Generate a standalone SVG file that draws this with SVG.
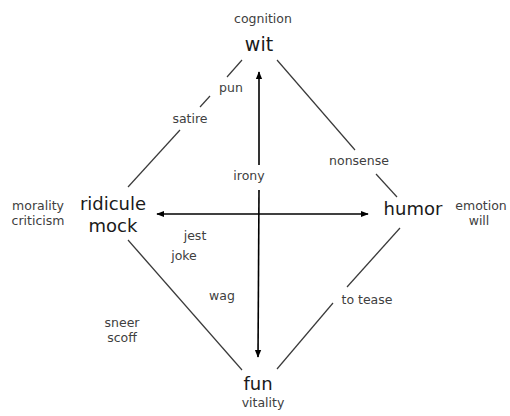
<svg xmlns="http://www.w3.org/2000/svg" width="510" height="416" viewBox="0 0 510 416">
<style>
.big{font-family:"DejaVu Sans","Open Sans",sans-serif;font-size:18px;fill:#1a1a1a;text-anchor:middle}
.sm{font-family:"DejaVu Sans","Open Sans",sans-serif;font-size:12.5px;fill:#404040;text-anchor:middle}
.ln{stroke:#3a3a3a;stroke-width:1.2;fill:none}
.ax{stroke:#000;stroke-width:1.6;fill:none}
</style>
<defs>
<marker id="ah" viewBox="0 0 10 10" refX="9" refY="5" markerWidth="8" markerHeight="8" markerUnits="userSpaceOnUse" orient="auto">
<path d="M0,1 L10,5 L0,9 Z" fill="#000"/>
</marker>
</defs>
<rect width="510" height="416" fill="#fff"/>
<g id="connectors">
<line class="ln" x1="242" y1="60" x2="227" y2="77"/>
<line class="ln" x1="210" y1="96" x2="200" y2="107"/>
<line class="ln" x1="180" y1="130" x2="128" y2="187"/>
<line class="ln" x1="277" y1="60" x2="355" y2="150"/>
<line class="ln" x1="376" y1="174" x2="397" y2="197"/>
<line class="ln" x1="400" y1="228" x2="347" y2="287"/>
<line class="ln" x1="333" y1="303" x2="277" y2="369"/>
<line class="ln" x1="128" y1="240" x2="242" y2="370"/>
<line class="ax" x1="259" y1="165" x2="259" y2="72" marker-end="url(#ah)"/>
<line class="ax" x1="259" y1="190" x2="258" y2="357" marker-end="url(#ah)"/>
<line class="ax" x1="259" y1="214" x2="157" y2="214" marker-end="url(#ah)"/>
<line class="ax" x1="259" y1="214" x2="368" y2="214" marker-end="url(#ah)"/>
</g>
<g id="wit">
<text class="sm" x="263" y="23">cognition</text>
<text class="big" x="259" y="51" style="font-size:19px">wit</text>
</g>
<g id="ridicule">
<text class="sm" x="38" y="210">morality</text>
<text class="sm" x="38" y="225">criticism</text>
<text class="big" x="113" y="210">ridicule</text>
<text class="big" x="113" y="232">mock</text>
</g>
<g id="humor">
<text class="big" x="413" y="215">humor</text>
<text class="sm" x="481" y="210">emotion</text>
<text class="sm" x="479" y="225">will</text>
</g>
<g id="fun">
<text class="big" x="258" y="390">fun</text>
<text class="sm" x="263" y="407">vitality</text>
</g>
<g id="labels">
<text class="sm" x="231" y="92">pun</text>
<text class="sm" x="190" y="123">satire</text>
<text class="sm" x="249" y="180">irony</text>
<text class="sm" x="359" y="165">nonsense</text>
<text class="sm" x="195" y="240">jest</text>
<text class="sm" x="184" y="260">joke</text>
<text class="sm" x="222" y="300">wag</text>
<text class="sm" x="122" y="327">sneer</text>
<text class="sm" x="122" y="342">scoff</text>
<text class="sm" x="367" y="304">to tease</text>
</g>
</svg>
